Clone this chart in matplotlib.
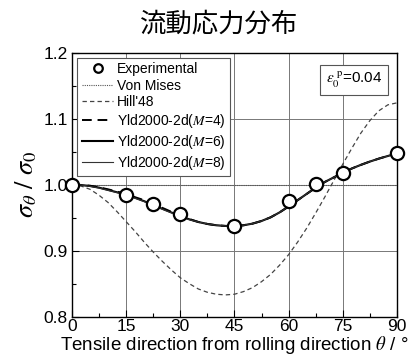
import matplotlib
matplotlib.use("Agg")
import matplotlib.pyplot as plt
from matplotlib.ticker import MultipleLocator, FormatStrFormatter

plt.rcParams['font.family'] = ['Liberation Sans', 'DejaVu Sans']
plt.rcParams['mathtext.fontset'] = 'stix'

# Data
theta_exp = [0, 15, 22.5, 30, 45, 60, 67.5, 75, 90]
sigma_exp = [1.000, 0.985, 0.970, 0.955, 0.937, 0.975, 1.001, 1.018, 1.048]

theta_curve = [0, 2.5, 5, 7.5, 10, 12.5, 15, 17.5, 20, 22.5, 25, 27.5, 30, 32.5, 35, 37.5,
               40, 42.5, 45, 47.5, 50, 52.5, 55, 57.5, 60, 62.5, 65, 67.5, 70, 72.5, 75,
               77.5, 80, 82.5, 85, 87.5, 90]
von_mises = [1.0] * 37
hill48 = [1.000, 0.998, 0.993, 0.984, 0.973, 0.959, 0.944, 0.929, 0.913, 0.898, 0.884,
          0.871, 0.859, 0.850, 0.842, 0.837, 0.834, 0.833, 0.834, 0.838, 0.844, 0.853,
          0.864, 0.878, 0.894, 0.913, 0.934, 0.957, 0.981, 1.006, 1.031, 1.055, 1.078,
          1.097, 1.112, 1.121, 1.124]
yld_m6 = [1.000, 0.9995, 0.998, 0.9955, 0.992, 0.9885, 0.985, 0.980, 0.975, 0.969, 0.9635,
          0.958, 0.9525, 0.9475, 0.9435, 0.9405, 0.9385, 0.9375, 0.9375, 0.9385, 0.941,
          0.945, 0.9505, 0.958, 0.967, 0.9765, 0.986, 0.9955, 1.004, 1.011, 1.018, 1.0245,
          1.030, 1.035, 1.0395, 1.0435, 1.0475]
yld_m4 = [1.000, 0.9995, 0.9985, 0.996, 0.993, 0.9895, 0.986, 0.981, 0.9765, 0.9705, 0.965,
          0.959, 0.9535, 0.948, 0.9435, 0.9405, 0.9385, 0.9375, 0.9375, 0.9385, 0.941,
          0.945, 0.9505, 0.958, 0.967, 0.9765, 0.986, 0.9955, 1.004, 1.011, 1.018, 1.0245,
          1.030, 1.035, 1.0395, 1.0435, 1.0475]
yld_m8 = [1.000, 0.9995, 0.9975, 0.995, 0.9915, 0.988, 0.9845, 0.9795, 0.9745, 0.9685, 0.963,
          0.9575, 0.952, 0.947, 0.9435, 0.9405, 0.9385, 0.9375, 0.9375, 0.9385, 0.941,
          0.945, 0.9505, 0.958, 0.967, 0.9765, 0.986, 0.9955, 1.004, 1.011, 1.018, 1.0245,
          1.030, 1.035, 1.0395, 1.0435, 1.0475]

title = "流動応力分布"
xlabel = r"Tensile direction from rolling direction $\theta$ / °"
ylabel = r"$\sigma_\theta\ /\ \sigma_0$"

fig = plt.figure(figsize=(4.1, 3.6), dpi=100)
ax = fig.add_axes([0.1756, 0.1203, 0.7924, 0.7333])

ax.plot(theta_curve, von_mises, linestyle=(0, (1, 1)), color='#555555', lw=0.8, label='Von Mises')
ax.plot(theta_curve, hill48, linestyle=(0, (3.5, 2.5)), color='#444444', lw=0.9, label="Hill'48")
ax.plot(theta_curve, yld_m4, linestyle=(0, (5, 3)), color='black', lw=1.4, label=r'Yld2000-2d($\mathit{M}$=4)')
ax.plot(theta_curve, yld_m6, linestyle='-', color='black', lw=1.5, label=r'Yld2000-2d($\mathit{M}$=6)')
ax.plot(theta_curve, yld_m8, linestyle='-', color='#333333', lw=0.8, label=r'Yld2000-2d($\mathit{M}$=8)')
ax.plot(theta_exp, sigma_exp, linestyle='none', marker='o', markersize=9.5,
        markerfacecolor='white', markeredgecolor='black', markeredgewidth=1.6,
        label='Experimental', zorder=5, clip_on=False)

ax.set_xlim(0, 90)
ax.set_ylim(0.8, 1.2)
ax.xaxis.set_major_locator(MultipleLocator(15))
ax.xaxis.set_minor_locator(MultipleLocator(7.5))
ax.yaxis.set_major_locator(MultipleLocator(0.1))
ax.yaxis.set_minor_locator(MultipleLocator(0.05))
ax.yaxis.set_major_formatter(FormatStrFormatter('%.1f'))
ax.tick_params(which='both', direction='in', labelsize=12.5, colors='black')
ax.tick_params(which='major', length=5, width=0.8)
ax.tick_params(which='minor', length=3, width=0.8)
ax.tick_params(axis='x', pad=2)
ax.tick_params(axis='y', pad=3)
ax.grid(True, which='major', color='#777777', lw=0.7)
ax.set_axisbelow(True)
for s in ax.spines.values():
    s.set_linewidth(1.0)

ax.set_xlabel(xlabel, fontsize=13.5, labelpad=0)
ax.set_ylabel(ylabel, fontsize=19, labelpad=3)
fig.text(0.535, 0.933, title, fontsize=19, ha='center', va='center',
         family=['Noto Sans CJK JP', 'DejaVu Sans'])

handles, labels = ax.get_legend_handles_labels()
order = [5, 0, 1, 2, 3, 4]
leg = ax.legend([handles[i] for i in order], [labels[i] for i in order],
                loc='upper left', bbox_to_anchor=(0.008, 0.992), fontsize=10,
                frameon=True, fancybox=False, edgecolor='#555555', framealpha=1,
                handlelength=2.3, handletextpad=0.25, borderpad=0.3, labelspacing=0.2,
                borderaxespad=0.2, markerscale=0.65)
leg.get_frame().set_linewidth(0.8)

ax.text(0.955, 0.935, r'$\varepsilon_0^{\ \mathrm{p}}$=0.04', transform=ax.transAxes,
        ha='right', va='top', fontsize=11,
        bbox=dict(boxstyle='square,pad=0.35', facecolor='white', edgecolor='#555555', lw=0.8))

fig.savefig('out.png', dpi=100)
